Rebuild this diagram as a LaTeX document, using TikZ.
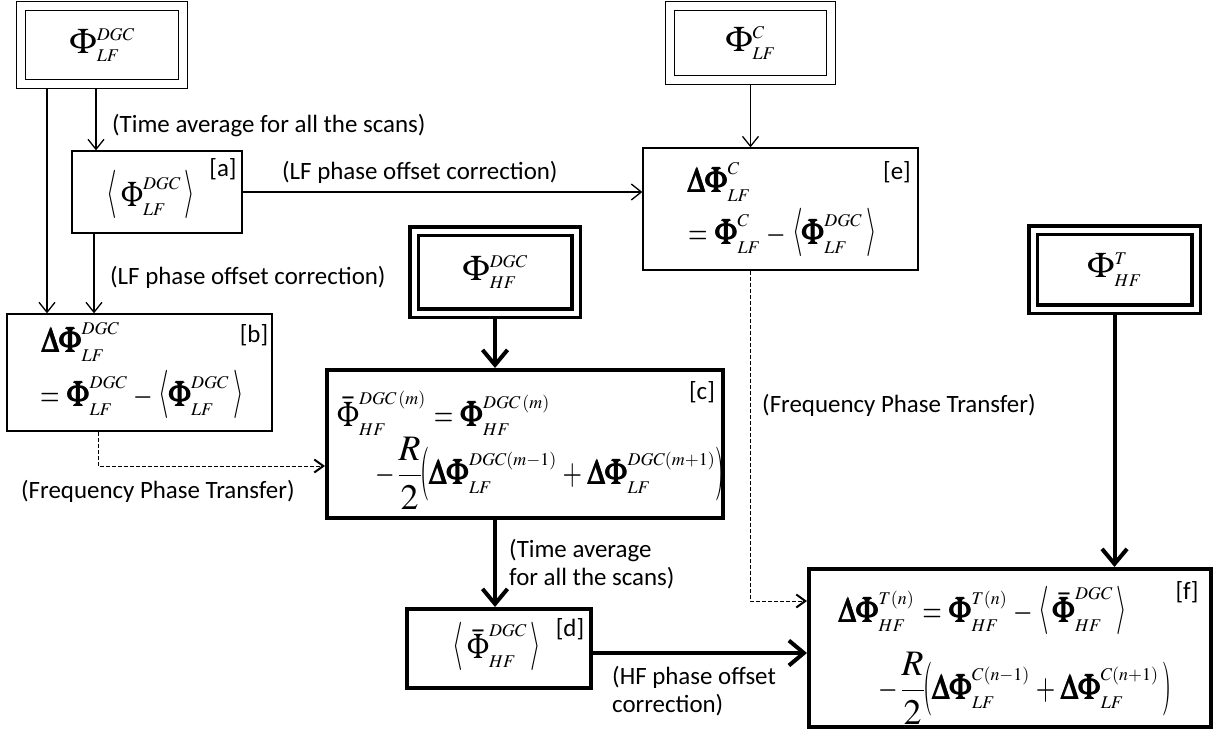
\documentclass[tikz,border=0pt]{standalone}
\usepackage{amsmath}
\usepackage{graphicx}
\usepackage{mathptmx}
\usepackage[no-math]{fontspec}
\setmainfont{Carlito}
\DeclareMathSizes{36}{36}{18}{13}
\usetikzlibrary{arrows.meta}
\newcommand\mfont{\fontsize{36}{40}\selectfont\thickmuskip=4mu\medmuskip=3mu\nulldelimiterspace=0pt}
\newcommand\tfont{\fontsize{25}{28}\selectfont}
\newcommand\hs[1]{\scalebox{0.8}[1]{$#1$}}
\newcommand\PH{\mathord{\hs{\Phi}}}
\newcommand\BP{\mathord{\hs{\pmb{\Phi}}}}
\newcommand\BDP{\mathord{\hs{\pmb{\Delta\Phi}}}}
\newcommand\EQ{\mathrel{\scalebox{0.7}[1]{$=$}}}
\newcommand\MI{\mathbin{\scalebox{0.7}[1]{$-$}}}
\newcommand\UMI{\mathord{\scalebox{0.7}[1]{$-$}}}
\newcommand\PL{\mathbin{\scalebox{0.7}[1]{$+$}}}
\newcommand\LA{\mathopen{\scalebox{0.75}[1.35]{$\langle$}}}
\newcommand\RA{\mathclose{\scalebox{0.75}[1.35]{$\rangle$}}}
\newcommand\LP{\mathopen{\raisebox{-3bp}{\scalebox{0.65}[1.5]{$($}}}}
\newcommand\RP{\mathclose{\raisebox{-3bp}{\scalebox{0.65}[1.5]{$)$}}}}
\tikzset{
  sz/.style 2 args={minimum width=#1bp, minimum height=#2bp},
  sbox/.style={draw, line width=1.3bp, inner sep=0pt, font=\mfont},
  tbox/.style={draw, line width=4bp, inner sep=0pt, font=\mfont},
  dbox/.style={draw, line width=1.3bp, double, double distance=7.5bp, inner sep=0pt, outer sep=5.05bp, font=\mfont},
  dtbox/.style={draw, line width=3.5bp, double, double distance=5bp, inner sep=0pt, outer sep=6bp, font=\mfont},
  mth/.style={inner sep=0pt, font=\mfont},
  lbl/.style={inner sep=0pt, font=\tfont, anchor=west, align=left},
  tag/.style={inner sep=0pt, font=\tfont},
  arr/.style={line width=1.3bp, -{Straight Barb[length=10bp,width=16bp]}},
  tarr/.style={line width=4bp, -{Straight Barb[length=15bp,width=25bp]}},
  darr/.style={line width=1bp, dash pattern=on 4bp off 2bp, -{Straight Barb[length=9bp,width=13bp,line width=2bp]}}
}
\begin{document}
\begin{tikzpicture}[x=1bp,y=-1bp]
\useasboundingbox (0,0) rectangle (1220,736);

% source boxes
\node[dbox, sz={161.6}{77.6}] (A0) at (102,45) {$\Phi^{DGC}_{LF}$};
\node[dbox, sz={160.6}{73.6}] (C) at (750.5,43) {$\Phi^{C}_{LF}$};
\node[dtbox, sz={162}{82}] (HF) at (495,272) {$\Phi^{DGC}_{HF}$};
\node[dtbox, sz={163}{79}] (T) at (1114.5,269.5) {$\Phi^{T}_{HF}$};

% process boxes
\node[sbox, sz={170}{82}] (a) at (157,192) {};
\node[mth] (at) at (151,195) {$\LA\,\PH^{DGC}_{LF}\,\RA$};
\node[tag] (atag) at (223,169) {[a]};

\node[sbox, sz={265}{117}] (b) at (139.5,372.5) {};
\node[mth, anchor=west] (b1) at (42,342) {$\BDP^{DGC}_{LF}$};
\node[mth, anchor=west] (b2) at (40,395) {$\EQ \BP^{DGC}_{LF} \MI \LA \BP^{DGC}_{LF}\, \RA$};
\node[tag] (btag) at (254,335) {[b]};

\node[sbox, sz={275}{122}] (e) at (780.5,209) {};
\node[mth, anchor=west] (e1) at (688,182) {$\BDP^{C}_{LF}$};
\node[mth, anchor=west] (e2) at (688,233) {$\EQ \BP^{C}_{LF} \MI \LA \BP^{DGC}_{LF}\, \RA$};
\node[tag] (etag) at (897,172) {[e]};

\node[tbox, sz={396}{148}] (c) at (525,444) {};
\node[mth, anchor=west] (c1) at (337,413) {$\bar{\PH}^{DGC\,(m)}_{HF} \EQ \BP^{DGC\,(m)}_{HF}$};
\node[mth, anchor=west] (c2) at (375,473) {$\UMI\,\dfrac{R}{2}\LP \BDP^{DGC(m-1)}_{LF} \PL \BDP^{DGC(m+1)}_{LF} \RP$};
\node[tag] (ctag) at (702,392) {[c]};

\node[tbox, sz={184}{79}] (d) at (499,648.5) {};
\node[mth] (dt) at (497,647) {$\LA\,\bar{\PH}^{DGC}_{HF}\,\RA$};
\node[tag] (dtag) at (570,629) {[d]};

\node[tbox, sz={402}{158}] (f) at (1010,648) {};
\node[mth, anchor=west] (f1) at (839,611) {$\BDP^{T(n)}_{HF} \EQ \BP^{T(n)}_{HF} \MI \LA\,\bar{\BP}^{DGC}_{HF}\,\RA$};
\node[mth, anchor=west] (f2) at (878,688) {$\UMI\,\dfrac{R}{2}\LP \BDP^{C(n-1)}_{LF} \PL \BDP^{C(n+1)}_{LF}\, \RP$};
\node[tag] (ftag) at (1187,592) {[f]};

% helper coordinates
\coordinate (x47) at (47,0);
\coordinate (x96) at (96,0);
\coordinate (x94) at (94,0);
\coordinate (x98) at (98,0);
\coordinate (y466) at (0,466);
\coordinate (y601) at (0,601);
\coordinate (y653) at (0,653);

% connectors
\draw[arr] (x47 |- A0.south) -- (x47 |- b.north);
\draw[arr] (x96 |- A0.south) -- (x96 |- a.north);
\draw[arr] (x94 |- a.south) -- (x94 |- b.north);
\draw[arr] (a.east) -- (e.west |- a.east);
\draw[arr] (C.south) -- (C.south |- e.north);
\draw[darr] (C.south |- e.south) -- (C.south |- y601) -- (f.west |- y601);
\draw[darr] (x98 |- b.south) -- (x98 |- y466) -- (c.west |- y466);
\draw[tarr] (HF.south) -- (HF.south |- c.north);
\draw[tarr] (HF.south |- c.south) -- (HF.south |- d.north);
\draw[tarr] (d.east |- y653) -- (f.west |- y653);
\draw[tarr] (T.south) -- (T.south |- f.north);

% connector labels
\node[lbl] (l1) at (112,126) {(Time average for all the scans)};
\node[lbl] (l2) at (282,172) {(LF phase offset correction)};
\node[lbl] (l3) at (110,277) {(LF phase offset correction)};
\node[lbl] (l4) at (21,491) {(Frequency Phase Transfer)};
\node[lbl] (l5) at (762,405) {(Frequency Phase Transfer)};
\node[lbl] (l6) at (509,564) {(Time average\\for all the scans)};
\node[lbl] (l7) at (612,691) {(HF phase offset\\correction)};
\end{tikzpicture}
\end{document}
